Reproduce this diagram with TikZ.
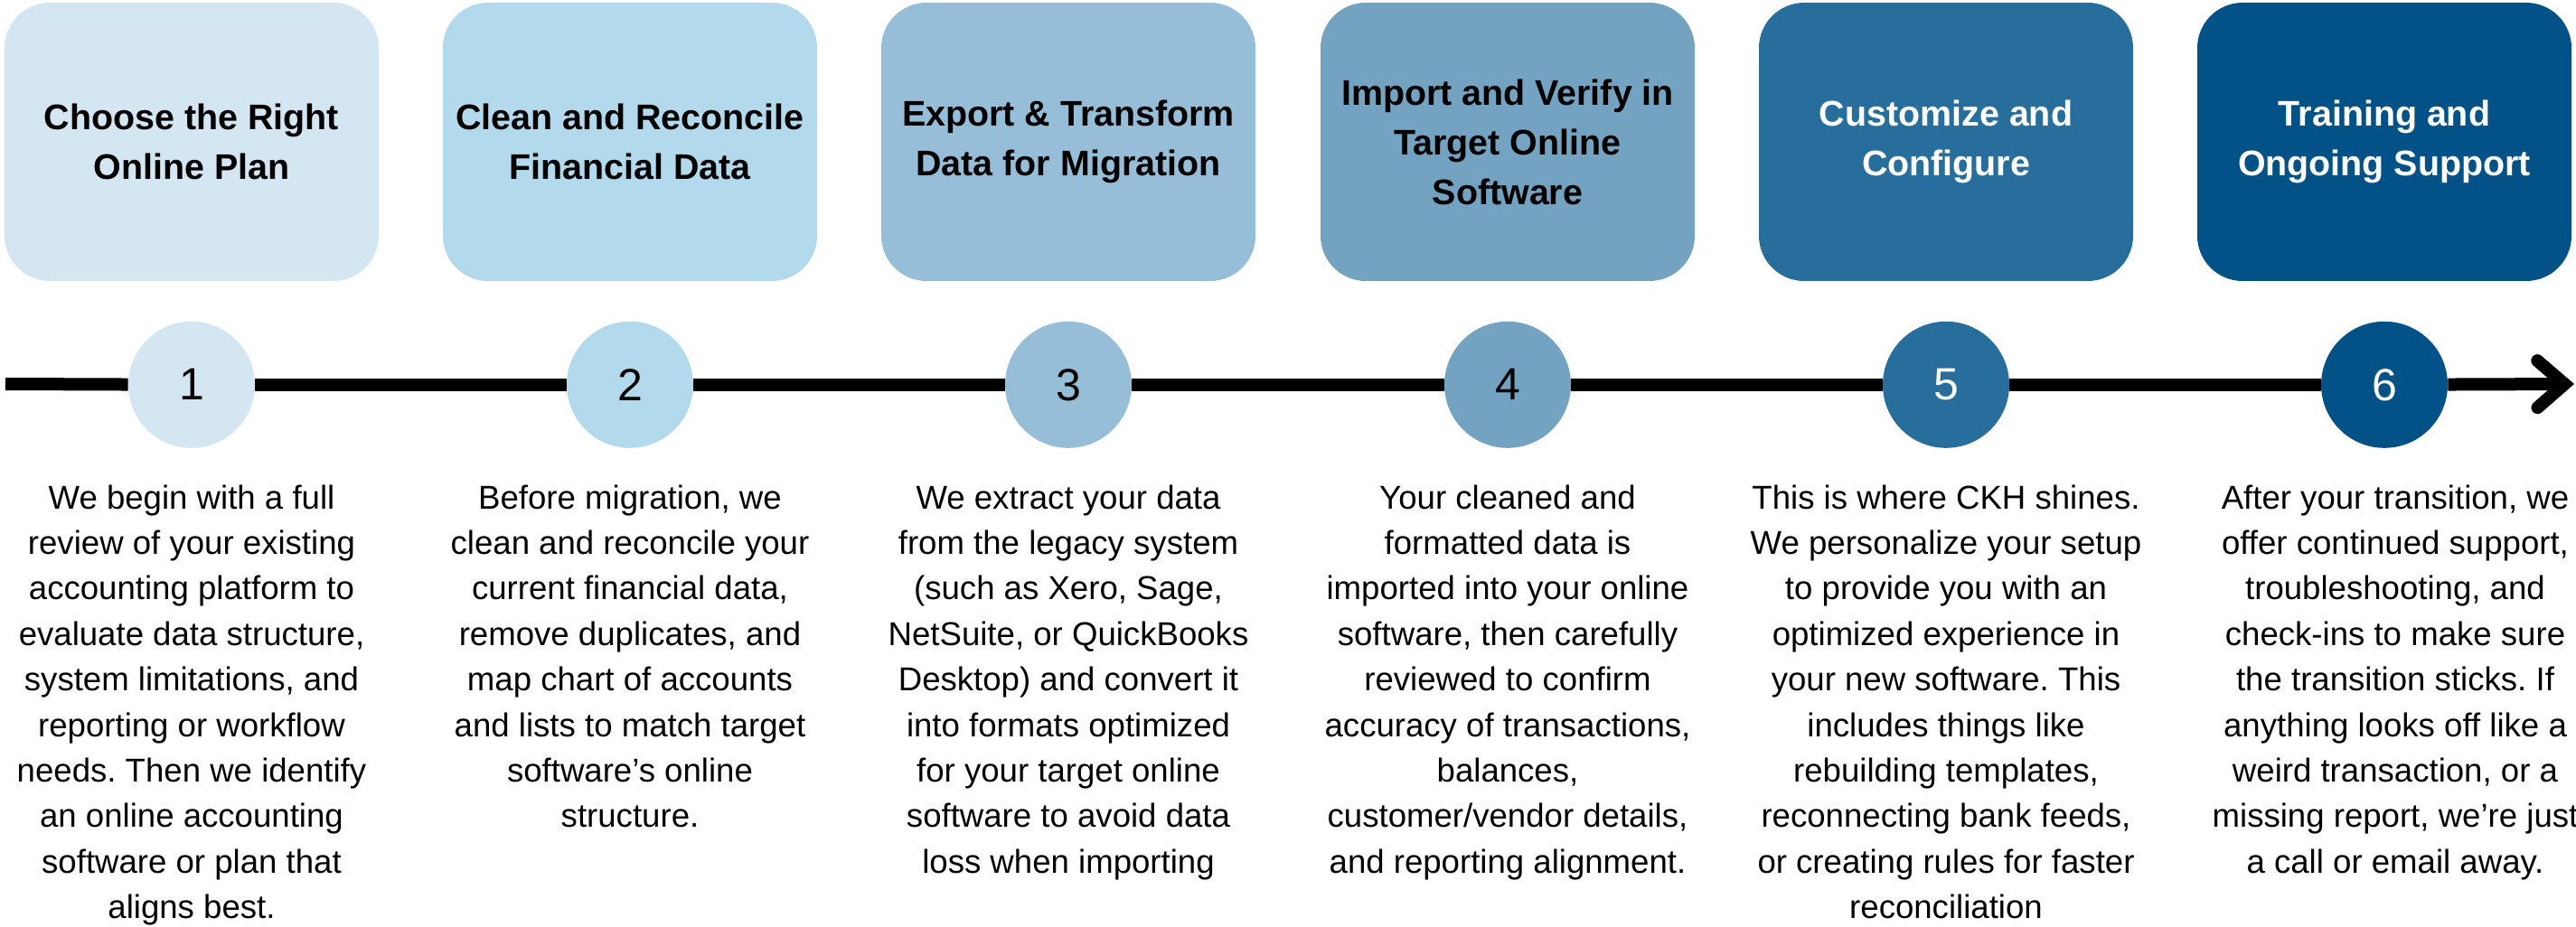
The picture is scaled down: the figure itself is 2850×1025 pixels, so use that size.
\documentclass[tikz,border=0pt]{standalone}
\usepackage{fontspec}
\setmainfont{Liberation Sans}
\usetikzlibrary{arrows.meta, positioning}
\frenchspacing
\definecolor{shade1}{RGB}{211,230,241}
\definecolor{shade2}{RGB}{179,217,236}
\definecolor{shade3}{RGB}{150,190,216}
\definecolor{shade4}{RGB}{115,163,193}
\definecolor{shade5}{RGB}{39,110,156}
\definecolor{shade6}{RGB}{3,82,135}
\tikzstyle{stage} = [rectangle, rounded corners=25pt, minimum width=207pt, minimum height=154pt, inner sep=0pt, align=center, font=\fontsize{19.7pt}{27.5pt}\selectfont\bfseries]
\tikzstyle{marker} = [circle, minimum size=70pt, inner sep=0pt, font=\fontsize{25pt}{30pt}\selectfont]
\tikzstyle{note} = [align=center, inner sep=0pt, font=\fontsize{18.3pt}{25.2pt}\selectfont]
\tikzstyle{timeline} = [line width=7pt]
\begin{document}
\begin{tikzpicture}[x=0.5pt, y=0.5pt]
    \useasboundingbox (0,0) rectangle (2850,1025);

    \foreach \i/\x/\ink/\title in {%
        1/212/black/{Choose the Right\\Online Plan},
        2/697/black/{Clean and Reconcile\\Financial Data},
        3/1182/black/{Export \& Transform\\Data for Migration},
        4/1668/black/{Import and Verify in\\Target Online\\Software},
        5/2153/white/{Customize and\\Configure},
        6/2638/white/{Training and\\Ongoing Support}} {%
        \node (stage \i) [stage, fill=shade\i, text=\ink] at (\x,868) {\title};
        \node (marker \i) [marker, fill=shade\i, text=\ink, below=22pt of stage \i] {\i};
    }

    % Descriptions.
    \node (note 1) [note, below=20pt of marker 1] {We begin with a full\\review of your existing\\accounting platform to\\evaluate data structure,\\system limitations, and\\reporting or workflow\\needs. Then we identify\\an online accounting\\software or plan that\\aligns best.};
    \node (note 2) [note, below=20pt of marker 2] {Before migration, we\\clean and reconcile your\\current financial data,\\remove duplicates, and\\map chart of accounts\\and lists to match target\\software’s online\\structure.};
    \node (note 3) [note, below=20pt of marker 3] {We extract your data\\from the legacy system\\(such as Xero, Sage,\\NetSuite, or QuickBooks\\Desktop) and convert it\\into formats optimized\\for your target online\\software to avoid data\\loss when importing};
    \node (note 4) [note, below=20pt of marker 4] {Your cleaned and\\formatted data is\\imported into your online\\software, then carefully\\reviewed to confirm\\accuracy of transactions,\\balances,\\customer/vendor details,\\and reporting alignment.};
    \node (note 5) [note, below=20pt of marker 5] {This is where CKH shines.\\We personalize your setup\\to provide you with an\\optimized experience in\\your new software. This\\includes things like\\rebuilding templates,\\reconnecting bank feeds,\\or creating rules for faster\\reconciliation};
    \node (note 6) [note, below=20pt of marker 6, xshift=6pt] {After your transition, we\\offer continued support,\\troubleshooting, and\\check-ins to make sure\\the transition sticks. If\\anything looks off like a\\weird transaction, or a\\missing report, we’re just\\a call or email away.};

    % Timeline.
    \coordinate (tl start) at (6,600);
    \coordinate (tl end) at (2848,600);
    \draw [timeline] (tl start) -- (marker 1);
    \foreach \i/\j in {1/2, 2/3, 3/4, 4/5, 5/6}
        \draw [timeline] (marker \i) -- (marker \j);
    \draw [timeline, -{Straight Barb[length=15pt, width=26pt, line cap=round]}] (marker 6) -- (tl end);
\end{tikzpicture}
\end{document}
